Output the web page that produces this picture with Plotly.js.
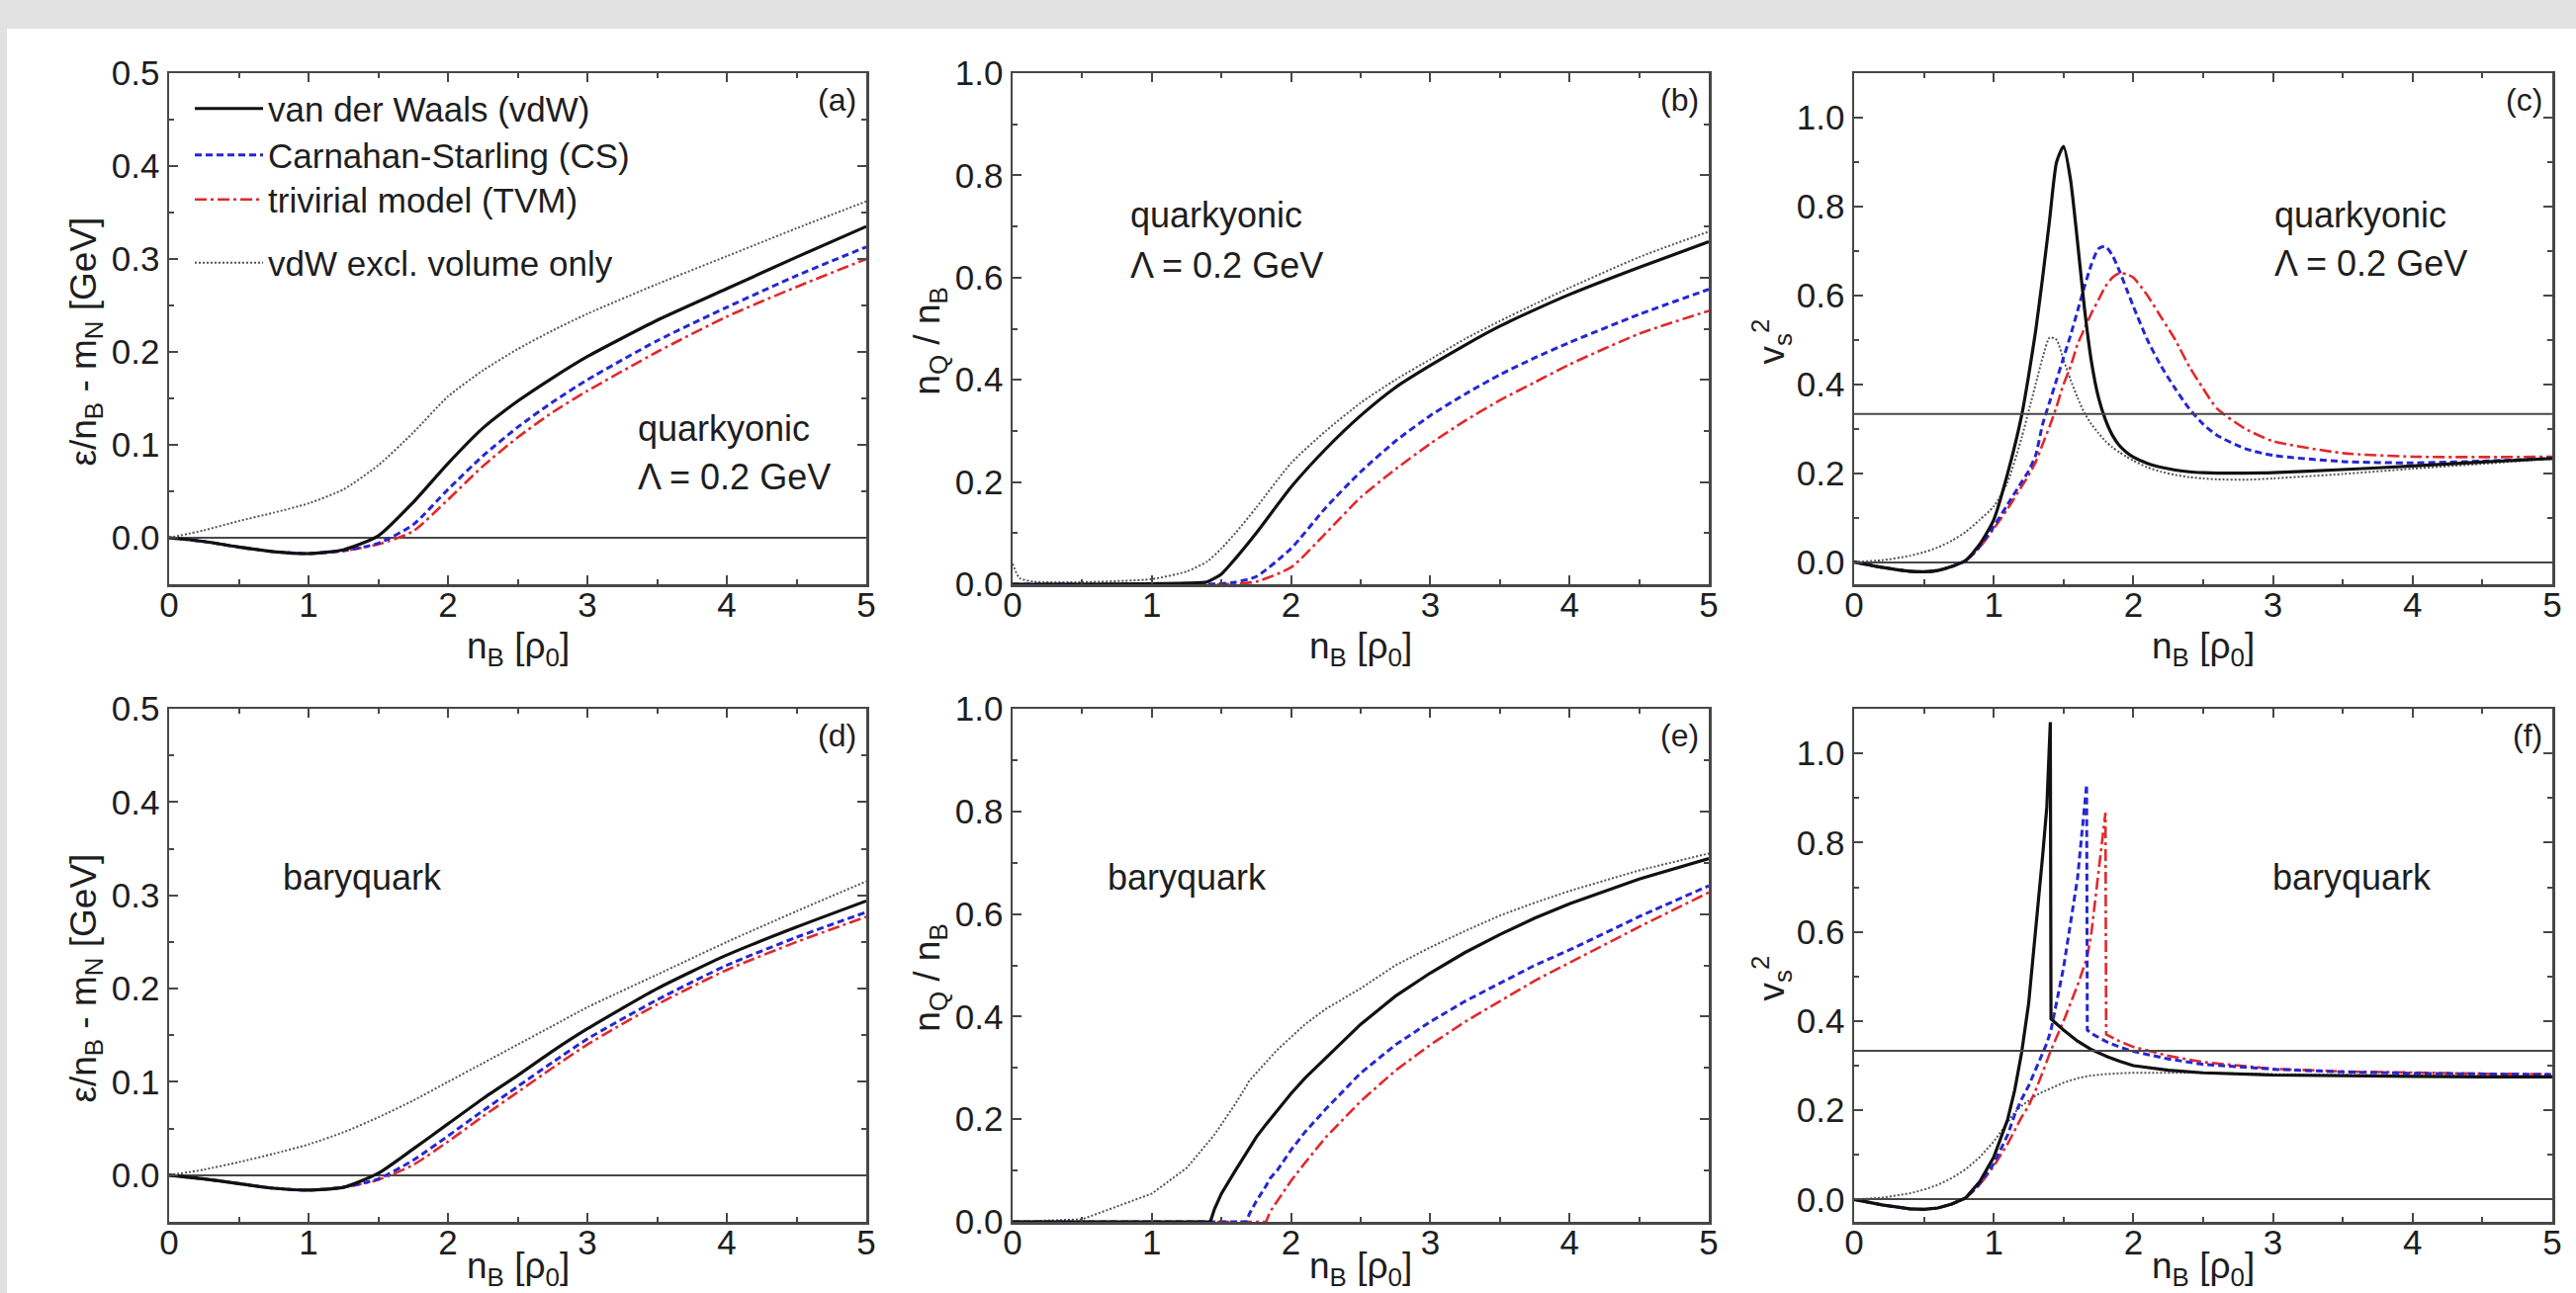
<!DOCTYPE html>
<html>
<head>
<meta charset="utf-8">
<script src="https://cdn.plot.ly/plotly-3.0.1.min.js"></script>
<style>
html, body { margin:0; padding:0; background:#e1e1e1; overflow:hidden; }
#chart { width:2605px; height:1308px; }
</style>
</head>
<body>
<div id="chart"></div>
<script>
// ---------------- data ----------------
const seriesNames = ['van der Waals (vdW)', 'Carnahan-Starling (CS)', 'trivirial model (TVM)', 'vdW excl. volume only'];
const panelLabels = ['(a)', '(b)', '(c)', '(d)', '(e)', '(f)'];
const modelQuarkyonic = 'quarkyonic';
const lambdaText = 'Λ = 0.2 GeV';
const modelBaryquark = 'baryquark';
const causalLimit = 1 / 3;   // conformal limit v_s^2 = 1/3

// (a) quarkyonic: energy per baryon
const xA = [0, 0.25, 0.5, 0.75, 1.0, 1.25, 1.5, 1.75, 2.0, 2.25, 2.5, 2.75, 3.0, 3.5, 4.0, 4.5, 5.0];
const aVdW  = [0, -0.004, -0.010, -0.015, -0.017, -0.013, 0.002, 0.038, 0.080, 0.118, 0.147, 0.172, 0.195, 0.234, 0.268, 0.302, 0.335];
const aCS   = [0, -0.004, -0.010, -0.015, -0.017, -0.014, -0.006, 0.014, 0.052, 0.088, 0.119, 0.146, 0.170, 0.212, 0.248, 0.282, 0.313];
const aTVM  = [0, -0.004, -0.010, -0.015, -0.017, -0.014, -0.007, 0.007, 0.041, 0.077, 0.108, 0.135, 0.158, 0.200, 0.238, 0.270, 0.300];
const aExcl = [0, 0.008, 0.018, 0.027, 0.037, 0.052, 0.078, 0.113, 0.152, 0.180, 0.203, 0.223, 0.241, 0.273, 0.303, 0.333, 0.362];

// (b) quarkyonic: quark fraction
const xB = [0, 0.05, 0.15, 0.5, 1.0, 1.25, 1.4, 1.5, 1.6, 1.75, 2.0, 2.25, 2.5, 2.75, 3.0, 3.25, 3.5, 3.75, 4.0, 4.5, 5.0];
const bVdW  = [0, 0, 0, 0, 0.001, 0.002, 0.005, 0.020, 0.050, 0.100, 0.190, 0.265, 0.330, 0.385, 0.428, 0.468, 0.505, 0.537, 0.567, 0.620, 0.670];
const bCS   = [0, 0, 0, 0, 0, 0, 0, 0.001, 0.004, 0.015, 0.070, 0.150, 0.220, 0.280, 0.330, 0.372, 0.410, 0.443, 0.473, 0.528, 0.577];
const bTVM  = [0, 0, 0, 0, 0, 0, 0, 0, 0.001, 0.005, 0.033, 0.100, 0.170, 0.225, 0.275, 0.320, 0.360, 0.395, 0.430, 0.490, 0.535];
const bExcl = [0.040, 0.012, 0.005, 0.004, 0.010, 0.025, 0.045, 0.070, 0.100, 0.150, 0.237, 0.300, 0.355, 0.400, 0.440, 0.480, 0.515, 0.548, 0.580, 0.640, 0.690];

// (c) quarkyonic: speed of sound squared
const xC = [0, 0.2, 0.4, 0.5, 0.6, 0.7, 0.8, 0.9, 1.0, 1.1, 1.2, 1.25, 1.3, 1.35, 1.4, 1.45, 1.5, 1.55, 1.6, 1.65, 1.7, 1.75, 1.8, 1.85, 1.9, 1.95, 2.0, 2.1, 2.2, 2.3, 2.4, 2.5, 2.6, 2.8, 3.0, 3.5, 4.0, 4.5, 5.0];
const cVdW  = [0, -0.012, -0.021, -0.022, -0.019, -0.010, 0.004, 0.040, 0.095, 0.200, 0.330, 0.420, 0.520, 0.640, 0.770, 0.900, 0.935, 0.860, 0.720, 0.570, 0.450, 0.370, 0.320, 0.285, 0.262, 0.247, 0.236, 0.222, 0.213, 0.207, 0.203, 0.201, 0.200, 0.200, 0.201, 0.208, 0.216, 0.225, 0.233];
const cCS   = [0, -0.012, -0.021, -0.022, -0.019, -0.010, 0.003, 0.035, 0.080, 0.130, 0.180, 0.205, 0.240, 0.310, 0.360, 0.410, 0.460, 0.510, 0.565, 0.620, 0.670, 0.705, 0.710, 0.690, 0.655, 0.615, 0.575, 0.500, 0.440, 0.390, 0.345, 0.310, 0.285, 0.255, 0.240, 0.226, 0.223, 0.227, 0.233];
const cTVM  = [0, -0.012, -0.021, -0.022, -0.019, -0.010, 0.003, 0.033, 0.075, 0.120, 0.170, 0.195, 0.225, 0.265, 0.305, 0.350, 0.400, 0.440, 0.490, 0.525, 0.560, 0.590, 0.620, 0.640, 0.650, 0.648, 0.640, 0.600, 0.550, 0.500, 0.440, 0.390, 0.345, 0.300, 0.272, 0.245, 0.237, 0.236, 0.237];
const cExcl = [0, 0.004, 0.014, 0.022, 0.033, 0.048, 0.068, 0.095, 0.125, 0.180, 0.280, 0.340, 0.400, 0.460, 0.505, 0.500, 0.455, 0.410, 0.370, 0.335, 0.310, 0.290, 0.272, 0.258, 0.247, 0.237, 0.228, 0.213, 0.203, 0.196, 0.191, 0.188, 0.186, 0.185, 0.188, 0.198, 0.210, 0.221, 0.233];

// (d) baryquark: energy per baryon
const xD = [0, 0.25, 0.5, 0.75, 1.0, 1.25, 1.5, 1.75, 2.0, 2.25, 2.5, 2.75, 3.0, 3.5, 4.0, 4.5, 5.0];
const dVdW  = [0, -0.004, -0.009, -0.014, -0.016, -0.013, 0.002, 0.028, 0.055, 0.082, 0.107, 0.133, 0.157, 0.200, 0.236, 0.266, 0.294];
const dCS   = [0, -0.004, -0.009, -0.014, -0.016, -0.013, -0.004, 0.016, 0.042, 0.069, 0.095, 0.121, 0.146, 0.188, 0.225, 0.255, 0.282];
const dTVM  = [0, -0.004, -0.009, -0.014, -0.016, -0.013, -0.005, 0.011, 0.036, 0.063, 0.089, 0.115, 0.140, 0.183, 0.220, 0.250, 0.277];
const dExcl = [0, 0.006, 0.014, 0.023, 0.033, 0.046, 0.062, 0.080, 0.100, 0.120, 0.140, 0.160, 0.180, 0.215, 0.250, 0.283, 0.315];

// (e) baryquark: quark fraction
const xE = [0, 0.5, 1.0, 1.25, 1.42, 1.45, 1.5, 1.6, 1.68, 1.7, 1.75, 1.82, 1.85, 1.9, 2.0, 2.1, 2.25, 2.5, 2.75, 3.0, 3.25, 3.5, 3.75, 4.0, 4.5, 5.0];
const eVdW  = [0, 0, 0, 0, 0, 0.025, 0.055, 0.100, 0.135, 0.143, 0.165, 0.190, 0.200, 0.218, 0.250, 0.280, 0.320, 0.385, 0.440, 0.485, 0.525, 0.560, 0.592, 0.620, 0.668, 0.708];
const eCS   = [0, 0, 0, 0, 0, 0, 0, 0, 0, 0.015, 0.040, 0.070, 0.085, 0.100, 0.140, 0.175, 0.220, 0.290, 0.345, 0.390, 0.430, 0.465, 0.500, 0.530, 0.595, 0.655];
const eTVM  = [0, 0, 0, 0, 0, 0, 0, 0, 0, 0, 0, 0, 0.020, 0.040, 0.080, 0.115, 0.165, 0.235, 0.295, 0.345, 0.390, 0.430, 0.470, 0.505, 0.575, 0.642];
const eExcl = [0, 0.005, 0.055, 0.105, 0.160, 0.170, 0.190, 0.230, 0.265, 0.275, 0.290, 0.310, 0.320, 0.335, 0.360, 0.385, 0.415, 0.455, 0.500, 0.535, 0.567, 0.597, 0.622, 0.645, 0.685, 0.718];

// (f) baryquark: speed of sound squared
const xF = [0, 0.2, 0.4, 0.5, 0.6, 0.7, 0.8, 0.9, 1.0, 1.1, 1.15, 1.2, 1.25, 1.3, 1.35, 1.38, 1.405, 1.41, 1.5, 1.6, 1.665, 1.67, 1.7, 1.8, 1.805, 1.9, 2.0, 2.25, 2.5, 3.0, 3.5, 4.0, 4.5, 5.0];
const fVdW  = [0, -0.012, -0.021, -0.022, -0.019, -0.010, 0.004, 0.040, 0.095, 0.180, 0.245, 0.330, 0.440, 0.600, 0.770, 0.880, 1.070, 0.405, 0.380, 0.355, 0.343, 0.342, 0.336, 0.322, 0.321, 0.310, 0.300, 0.290, 0.284, 0.279, 0.277, 0.276, 0.275, 0.275];
const fCS   = [0, -0.012, -0.021, -0.022, -0.019, -0.010, 0.003, 0.035, 0.080, 0.145, 0.190, 0.225, 0.255, 0.290, 0.325, 0.350, 0.375, 0.380, 0.520, 0.720, 0.930, 0.380, 0.372, 0.355, 0.354, 0.342, 0.332, 0.315, 0.303, 0.292, 0.286, 0.283, 0.281, 0.280];
const fTVM  = [0, -0.012, -0.021, -0.022, -0.019, -0.010, 0.003, 0.033, 0.075, 0.125, 0.155, 0.185, 0.210, 0.245, 0.285, 0.310, 0.330, 0.335, 0.400, 0.480, 0.540, 0.545, 0.600, 0.867, 0.370, 0.355, 0.342, 0.322, 0.308, 0.293, 0.287, 0.284, 0.282, 0.281];
const fExcl = [0, 0.004, 0.014, 0.022, 0.033, 0.048, 0.068, 0.095, 0.130, 0.175, 0.195, 0.210, 0.222, 0.233, 0.241, 0.245, 0.249, 0.250, 0.262, 0.272, 0.276, 0.276, 0.278, 0.281, 0.281, 0.283, 0.284, 0.284, 0.284, 0.281, 0.279, 0.278, 0.277, 0.276];

// ---------------- styling ----------------
const FONT = 'Liberation Sans, Arial, Helvetica, sans-serif';
const TXT = '#1e1e1e';
const AX = '#474747';
const lineStyles = [
  {color: '#111111', width: 3.2, dash: 'solid'},
  {color: '#2626d4', width: 3,   dash: '7px,4px'},
  {color: '#e2282c', width: 2.6, dash: '12px,4px,3px,4px'},
  {color: '#555555', width: 2,   dash: '2px,2px'}
];

const panels = [
  {x: xA, ys: [aVdW, aCS, aTVM, aExcl], smooth: true},
  {x: xB, ys: [bVdW, bCS, bTVM, bExcl], smooth: true},
  {x: xC, ys: [cVdW, cCS, cTVM, cExcl], smooth: true},
  {x: xD, ys: [dVdW, dCS, dTVM, dExcl], smooth: true},
  {x: xE, ys: [eVdW, eCS, eTVM, eExcl], smooth: false},
  {x: xF, ys: [fVdW, fCS, fTVM, fExcl], smooth: false}
];

const W = 2605, H = 1308;
// plot-area pixel boxes measured on the reference
const colPx = [[171, 876], [1024, 1728], [1875, 2581]];
const rowPx = [[74, 591], [717, 1236]];
// vertical centre of the x-axis titles below each row (px)
const xTitleY = [656, 1283];

const traces = [];
const legendKeys = ['legend', 'legend2', 'legend3', 'legend4'];
panels.forEach((p, pi) => {
  const suffix = pi === 0 ? '' : String(pi + 1);
  [3, 2, 1, 0].forEach(si => {
    const ls = Object.assign({}, lineStyles[si]);
    if (p.smooth) { ls.shape = 'spline'; ls.smoothing = 0.6; }
    traces.push({
      type: 'scatter', mode: 'lines',
      x: p.x, y: p.ys[si],
      xaxis: 'x' + suffix, yaxis: 'y' + suffix,
      name: seriesNames[si],
      line: ls,
      showlegend: pi === 0,
      legend: legendKeys[si],
      hoverinfo: 'x+y+name'
    });
  });
});

const tickFont = {family: FONT, size: 35, color: TXT};
const titleFont = {family: FONT, size: 37, color: TXT};
const yTitles = ['ε/n<sub>B</sub> - m<sub>N</sub> [GeV]', 'n<sub>Q</sub> / n<sub>B</sub>', 'v<sub>s</sub><sup>2</sup>'];
const yRanges = [[-0.05, 0.5], [0, 1.0], [-0.05, 1.1]];
const yDtick = [0.1, 0.2, 0.2];
const xTitle = 'n<sub>B</sub> [ρ<sub>0</sub>]';

const layout = {
  width: W, height: H,
  margin: {l: 0, r: 0, t: 0, b: 0, pad: 0},
  paper_bgcolor: '#e1e1e1',
  plot_bgcolor: '#ffffff',
  font: {family: FONT, color: TXT},
  shapes: [
    {type: 'rect', xref: 'paper', yref: 'paper', x0: 7 / W, x1: 1, y0: 0, y1: 1 - 29 / H,
     fillcolor: '#ffffff', line: {width: 0}, layer: 'below'}
  ],
  annotations: []
};

for (let pi = 0; pi < 6; pi++) {
  const col = pi % 3, row = Math.floor(pi / 3);
  const suffix = pi === 0 ? '' : String(pi + 1);
  const xd = [colPx[col][0] / W, colPx[col][1] / W];
  const yd = [1 - rowPx[row][1] / H, 1 - rowPx[row][0] / H];
  const common = {
    showline: true, linecolor: AX, linewidth: 2.5, mirror: 'ticks',
    ticks: 'inside', ticklen: 9, tickwidth: 2, tickcolor: AX,
    showgrid: false, tickfont: tickFont, automargin: false
  };
  layout['xaxis' + suffix] = Object.assign({}, common, {
    domain: xd, anchor: 'y' + suffix, range: [0, 5], dtick: 1, tick0: 0,
    zeroline: false, ticklabelstandoff: -12,
    minor: {ticks: 'inside', ticklen: 5, tickwidth: 2, tickcolor: AX, dtick: 0.5, showgrid: false}
  });
  layout['yaxis' + suffix] = Object.assign({}, common, {
    domain: yd, anchor: 'x' + suffix, range: yRanges[col], dtick: yDtick[col], tick0: 0,
    tickformat: '.1f', ticklabelstandoff: 0,
    zeroline: col !== 1, zerolinecolor: AX, zerolinewidth: 2,
    minor: {ticks: 'inside', ticklen: 5, tickwidth: 2, tickcolor: AX, dtick: yDtick[col] / 2, showgrid: false}
  });
  const xr = 'x' + suffix + ' domain', yr = 'y' + suffix + ' domain';
  const plotH = rowPx[row][1] - rowPx[row][0];
  // axis titles (placed as in the figure)
  layout.annotations.push({
    xref: xr, yref: yr, x: 0.5, y: -(xTitleY[row] - rowPx[row][1]) / plotH,
    xanchor: 'center', yanchor: 'middle',
    text: xTitle, showarrow: false, font: titleFont
  });
  layout.annotations.push({
    xref: xr, yref: yr, x: -0.119, y: 0.475, xanchor: 'center', yanchor: 'middle',
    text: yTitles[col], textangle: -90, showarrow: false, font: titleFont
  });
  // panel label
  layout.annotations.push({
    xref: xr, yref: yr, x: 0.988, y: 0.948, xanchor: 'right', yanchor: 'middle',
    text: panelLabels[pi], showarrow: false, font: {family: FONT, size: 32, color: TXT}
  });
  if (col === 2) {
    layout.shapes.push({type: 'line', xref: xr, yref: 'y' + suffix,
      x0: 0, x1: 1, y0: causalLimit, y1: causalLimit, line: {color: AX, width: 2}});
  }
}

// model annotations
const annFont = {family: FONT, size: 36, color: TXT};
function note(suffix, x, y, text) {
  layout.annotations.push({
    xref: 'x' + suffix + ' domain', yref: 'y' + suffix + ' domain',
    x: x, y: y, xanchor: 'left', yanchor: 'middle',
    text: text, showarrow: false, font: annFont
  });
}
note('', 0.67, 0.304, modelQuarkyonic);
note('', 0.67, 0.209, lambdaText);
note('2', 0.166, 0.723, modelQuarkyonic);
note('2', 0.166, 0.623, lambdaText);
note('3', 0.599, 0.723, modelQuarkyonic);
note('3', 0.599, 0.627, lambdaText);
note('4', 0.16, 0.672, modelBaryquark);
note('5', 0.134, 0.672, modelBaryquark);
note('6', 0.596, 0.672, modelBaryquark);

// one legend per entry so the row spacing matches the figure
const legendY = [110, 157, 202, 266];
legendKeys.forEach((k, i) => {
  layout[k] = {
    x: 192 / W, y: 1 - legendY[i] / H, xanchor: 'left', yanchor: 'middle',
    bgcolor: 'rgba(0,0,0,0)', borderwidth: 0, itemwidth: 69,
    font: {family: FONT, size: 35, color: TXT}, tracegroupgap: 0
  };
});

Plotly.newPlot('chart', traces, layout, {displayModeBar: false, staticPlot: true});
</script>
</body>
</html>
